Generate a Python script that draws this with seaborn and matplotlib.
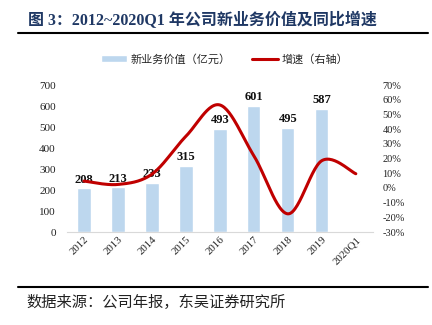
import numpy as np
import pandas as pd
import matplotlib
matplotlib.use("Agg")
import matplotlib.pyplot as plt
from matplotlib.container import BarContainer
import seaborn as sns

categories = ["2012", "2013", "2014", "2015", "2016", "2017", "2018", "2019", "2020Q1"]
nbv = [208, 213, 233, 315, 493, 601, 495, 587, np.nan]
growth = [0.047, 0.024, 0.094, 0.352, 0.565, 0.219, -0.176, 0.186, 0.097]
left_ticks = [0, 100, 200, 300, 400, 500, 600, 700]
right_ticks = [-0.3, -0.2, -0.1, 0.0, 0.1, 0.2, 0.3, 0.4, 0.5, 0.6, 0.7]

sns.set_theme(style="white")
plt.rcParams["font.family"] = ["Liberation Serif", "Noto Sans CJK SC", "DejaVu Sans"]

df = pd.DataFrame({"year": categories, "nbv": nbv, "growth": growth})

fig = plt.figure(figsize=(4.32, 3.25), dpi=100)
ax = fig.add_axes([0.155, 0.286, 0.708, 0.452])

sns.barplot(data=df, x="year", y="nbv", color="#BDD7EE", width=0.39,
            saturation=1, ax=ax, order=categories)
ax.set_xlim(-0.5, 8.5)
ax.set_ylim(0, 700)
ax.set_yticks(left_ticks)
ax.set_yticklabels([str(t) for t in left_ticks], fontsize=8, color="#222222")
ax.set_xlabel("")
ax.set_ylabel("")
for s in ["top", "right", "left"]:
    ax.spines[s].set_visible(False)
ax.spines["bottom"].set_color("#D9D9D9")
ax.spines["bottom"].set_linewidth(0.8)
ax.tick_params(axis="y", length=0, pad=8)
ax.tick_params(axis="x", length=0, pad=2)
ax.set_xticks(range(len(categories)))
ax.set_xticklabels(categories, rotation=45, ha="right", rotation_mode="anchor",
                   fontsize=7.8, color="#222222")

bars = [p for p in ax.patches if p is not None and np.isfinite(p.get_height()) and p.get_height() > 0]
bars.sort(key=lambda p: p.get_x())
bc = BarContainer(bars, datavalues=[p.get_height() for p in bars], orientation="vertical")
labels = [f"{int(v)}" for v in nbv if not np.isnan(v)]
ax.bar_label(bc, labels=labels, padding=2, fontsize=9,
             fontweight="bold", color="#111111")

ax2 = ax.twinx()
ax2.set_ylim(-0.3, 0.7)
ax2.set_yticks(right_ticks)
ax2.set_yticklabels([f"{round(t*100)}%" for t in right_ticks], fontsize=7.5, color="#222222")
ax2.tick_params(axis="y", length=0, pad=7)
for s in ["top", "right", "left", "bottom"]:
    ax2.spines[s].set_visible(False)
ax2.grid(False)
ax.grid(False)

# smooth curve (Bezier, Catmull-Rom style) through the data points
xs = np.arange(len(growth), dtype=float)
ys = np.array(growth, dtype=float)
P = np.column_stack([xs, ys])
curve = []
t = np.linspace(0, 1, 30)
for i in range(len(P) - 1):
    p0 = P[i - 1] if i > 0 else P[i]
    p1 = P[i]
    p2 = P[i + 1]
    p3 = P[i + 2] if i + 2 < len(P) else P[i + 1]
    c1 = p1 + (p2 - p0) / 6
    c2 = p2 - (p3 - p1) / 6
    seg = ((1 - t) ** 3)[:, None] * p1 + (3 * (1 - t) ** 2 * t)[:, None] * c1 + \
          (3 * (1 - t) * t ** 2)[:, None] * c2 + (t ** 3)[:, None] * p2
    curve.append(seg if i == 0 else seg[1:])
curve = np.vstack(curve)
line, = ax2.plot(curve[:, 0], curve[:, 1], color="#C00000", lw=2.2,
                 solid_capstyle="round")

handles = [bars[0], line]
fig.legend(handles, ["新业务价值（亿元）", "增速（右轴）"], loc="center",
           bbox_to_anchor=(0.52, 0.818), ncol=2, frameon=False,
           handlelength=2.35, handleheight=0.5, handletextpad=0.3, columnspacing=1.9,
           prop={"family": ["Noto Sans CJK SC"], "size": 8})

fig.text(0.065, 0.938, "图 3：2012~2020Q1 年公司新业务价值及同比增速", fontsize=11.5,
         fontweight="bold", color="#1F3864", va="center", ha="left")
fig.add_artist(plt.Line2D([0.042, 0.99], [0.898, 0.898], color="black", lw=1.5,
                          transform=fig.transFigure))
fig.add_artist(plt.Line2D([0.042, 0.99], [0.117, 0.117], color="black", lw=1.5,
                          transform=fig.transFigure))
fig.text(0.062, 0.07, "数据来源：公司年报，东吴证券研究所", fontsize=11,
         color="#222222", va="center", ha="left",
         family=["Noto Sans CJK SC", "DejaVu Sans"])

fig.savefig("out.png", dpi=100)
